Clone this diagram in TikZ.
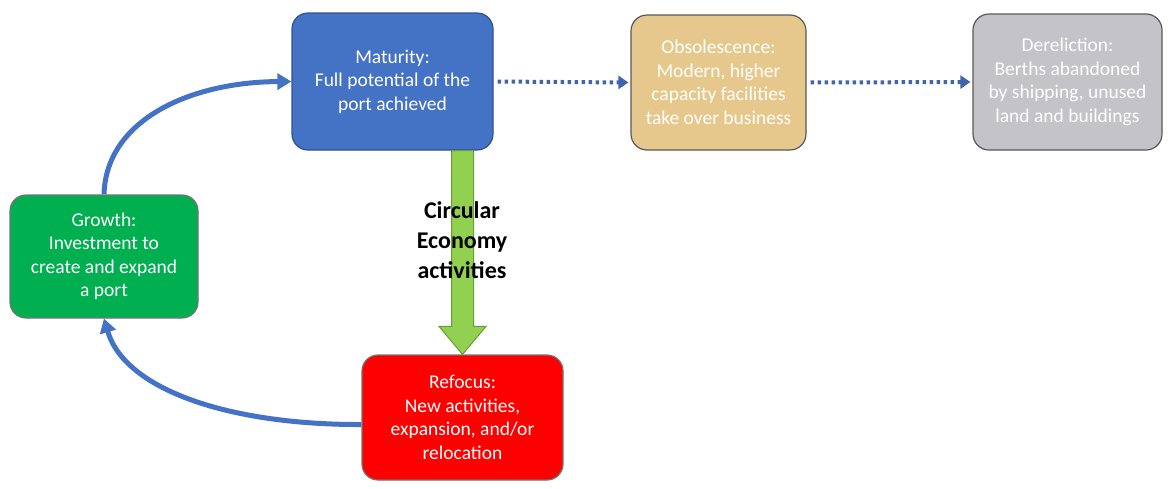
\documentclass[tikz,border=0pt]{standalone}
\usepackage{fontspec}
\setmainfont{Carlito}
\usetikzlibrary{arrows.meta,calc}
\definecolor{mblue}{HTML}{4472C4}
\definecolor{mblueb}{HTML}{2F528F}
\definecolor{tan}{HTML}{E6C88C}
\definecolor{greyb}{HTML}{C4C4C8}
\definecolor{ggreen}{HTML}{00B050}
\definecolor{rred}{HTML}{FF0000}
\definecolor{lgreen}{HTML}{92D050}
\definecolor{lgreenb}{HTML}{6A9A3A}
\definecolor{dotblue}{HTML}{3F65AD}
\begin{document}
\begin{tikzpicture}[x=1pt,y=-1pt,
  box/.style={draw=#1, rounded corners=16pt, line width=1.2pt, align=center,
    text=white, font=\fontsize{19.5}{23.5}\selectfont, inner sep=0pt},
  cyc/.style={draw=mblue, line width=5pt, -{Triangle[length=14pt,width=16pt]}},
  dots/.style={draw=dotblue, line width=4pt, dash pattern=on 3.5pt off 3.5pt,
    -{Triangle[length=10pt,width=13pt]}, shorten >=2pt, shorten <=4pt}]
\useasboundingbox (0,0) rectangle (1172,488);

\node[box=mblueb, fill=mblue, minimum width=201pt, minimum height=137pt] (m) at (392.5,81.5)
  {Maturity:\\Full potential of the\\port achieved};
\node[box=black!65, fill=tan, minimum width=175pt, minimum height=135pt] (o) at (718.5,82.5)
  {Obsolescence:\\Modern, higher\\capacity facilities\\take over business};
\node[box=black!65, fill=greyb, minimum width=189pt, minimum height=136pt] (d) at (1067.5,82)
  {Dereliction:\\Berths abandoned\\by shipping, unused\\land and buildings};
\node[box=black!55, fill=ggreen, minimum width=188pt, minimum height=123pt] (g) at (104,256.5)
  {Growth:\\Investment to\\create and expand\\a port};
\node[box=black!55, fill=rred, minimum width=201pt, minimum height=125pt] (r) at (462.5,417.5)
  {Refocus:\\New activities,\\expansion, and/or\\relocation};

% green broad arrow
\coordinate (gs) at (m.south -| r.north);
\filldraw[fill=lgreen, draw=lgreenb, line width=1pt]
  ($(gs)+(-11,0)$) -- ($(gs)+(11,0)$) -- ($(r.north)+(11,-28)$) -- ($(r.north)+(23.5,-28)$)
  -- (r.north) -- ($(r.north)+(-23.5,-28)$) -- ($(r.north)+(-11,-28)$) -- cycle;
\node[font=\fontsize{24}{30}\selectfont\bfseries, align=center, text=black] (ce) at (462,240)
  {Circular\\Economy\\activities};

% cycle arrows
\draw[cyc] (g.north) .. controls (106,120) and (190,82) .. (m.west);
\draw[cyc] ($(r.west)+(0,7)$) .. controls (230,425) and (125,390) .. (g.south);

% dotted arrows
\draw[dots] (m.east) -- (o.west);
\draw[dots] (o.east) -- (d.west);
\end{tikzpicture}
\end{document}
